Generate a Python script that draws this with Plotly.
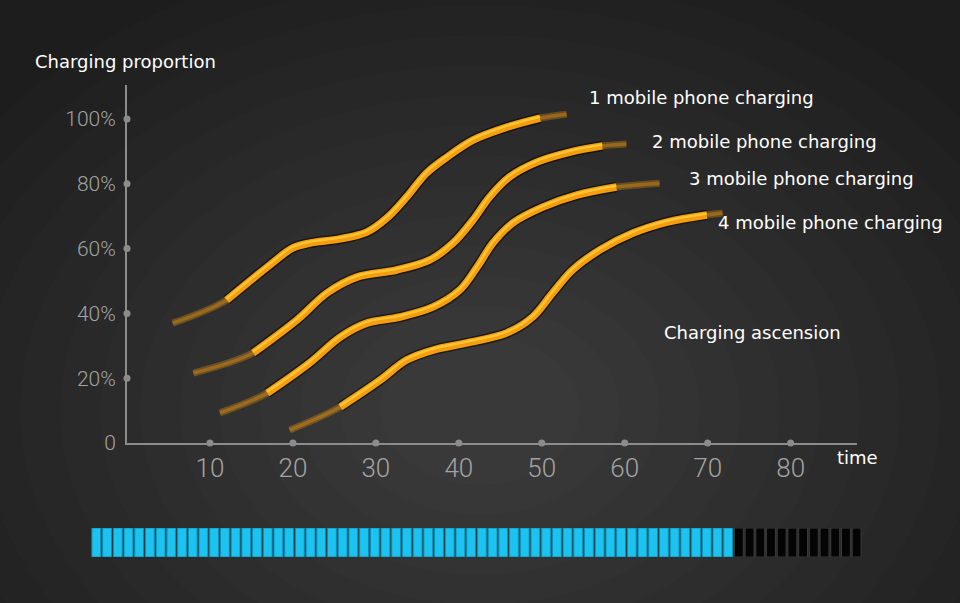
import plotly.graph_objects as go

# charging curves: (time, percent)
x1 = [5.5, 12.0, 16.9, 20.0, 22.0, 25.7, 28.9, 31.3, 33.7, 36.1, 38.6, 41.7, 45.8, 49.8, 53.0]
y1 = [37.0, 44.1, 54.3, 60.2, 61.7, 63.0, 65.1, 69.4, 75.9, 83.3, 88.3, 93.5, 97.5, 100.3, 101.5]
x2 = [8.0, 15.2, 20.5, 24.1, 27.7, 32.5, 36.5, 39.3, 41.7, 43.7, 46.1, 49.4, 53.4, 57.3, 60.2]
y2 = [21.6, 27.8, 38.0, 46.3, 51.2, 53.4, 56.5, 61.7, 68.8, 75.9, 82.1, 86.7, 89.8, 91.7, 92.3]
x3 = [11.2, 16.9, 22.0, 25.7, 28.9, 32.9, 36.9, 40.1, 42.2, 44.1, 46.5, 50.1, 54.2, 59.0, 64.2]
y3 = [9.3, 15.4, 24.7, 32.7, 37.0, 38.9, 42.0, 47.2, 54.3, 61.7, 67.9, 72.8, 76.5, 79.0, 80.2]
x4 = [19.6, 25.7, 30.5, 33.7, 36.9, 41.0, 45.8, 48.9, 51.3, 53.7, 57.0, 61.0, 65.1, 69.9, 71.8]
y4 = [4.0, 11.1, 19.4, 25.6, 28.7, 30.9, 34.0, 38.9, 46.3, 53.4, 59.6, 64.8, 68.2, 70.4, 71.0]
curve_names = ['1 mobile phone charging', '2 mobile phone charging',
               '3 mobile phone charging', '4 mobile phone charging']

x_ticks = [10, 20, 30, 40, 50, 60, 70, 80]
y_ticks = [0, 20, 40, 60, 80, 100]
y_tick_text = ['0', '20%', '40%', '60%', '80%', '100%']

# battery bar
segments_total = 72
segments_filled = 60

ORANGE = '#f59d10'
HIGHLIGHT = '#ffd23c'
TICK_GRAY = '#a3a3a3'
AXIS_GRAY = '#8c8c8c'
TEXT_FONT = dict(family='DejaVu Sans', size=18, color='white')

fig = go.Figure()

# radial glow in the background
bg_shapes = []
n_layers = 14
for i in range(n_layers):
    r = 620 - i * 40
    cx, cy = 480, 410
    rx, ry = r, r * 0.75
    bg_shapes.append(dict(
        type='circle', xref='paper', yref='paper', layer='below',
        x0=(cx - rx - 91) / 771, x1=(cx + rx - 91) / 771,
        y0=(563 - cy - ry) / 478, y1=(563 - cy + ry) / 478,
        fillcolor='rgba(255,255,255,0.012)', line=dict(width=0)))

curves = [(x1, y1), (x2, y2), (x3, y3), (x4, y4)]
for (xs, ys), name in zip(curves, curve_names):
    # whole curve thin and dim, so the ends look like a fading tail
    fig.add_trace(go.Scatter(x=xs, y=ys, mode='lines', opacity=0.3,
                             line=dict(color=ORANGE, width=7, shape='spline'),
                             hoverinfo='skip', showlegend=False))
    fig.add_trace(go.Scatter(x=xs, y=ys, mode='lines', opacity=0.35,
                             line=dict(color=ORANGE, width=3.5, shape='spline'),
                             hoverinfo='skip', showlegend=False))
    body_x, body_y = xs[1:-1], ys[1:-1]
    fig.add_trace(go.Scatter(x=body_x, y=body_y, mode='lines',
                             line=dict(color='rgba(0,0,0,0.5)', width=10.5, shape='spline'),
                             hoverinfo='skip', showlegend=False))
    fig.add_trace(go.Scatter(x=body_x, y=body_y, mode='lines', name=name,
                             line=dict(color=ORANGE, width=7.5, shape='spline'),
                             showlegend=False))
    fig.add_trace(go.Scatter(x=body_x, y=[v + 0.4 for v in body_y], mode='lines',
                             line=dict(color=HIGHLIGHT, width=2.5, shape='spline'),
                             opacity=0.75, hoverinfo='skip', showlegend=False))

# tick dots on the axes
fig.add_trace(go.Scatter(x=x_ticks, y=[0] * len(x_ticks), mode='markers', cliponaxis=False,
                         marker=dict(color=AXIS_GRAY, size=7), hoverinfo='skip', showlegend=False))
fig.add_trace(go.Scatter(x=[0] * (len(y_ticks) - 1), y=y_ticks[1:], mode='markers', cliponaxis=False,
                         marker=dict(color=AXIS_GRAY, size=7), hoverinfo='skip', showlegend=False))

# battery segments
seg_x = list(range(1, segments_total + 1))
seg_colors = ['#1cc3f0' if i <= segments_filled else '#040404' for i in seg_x]
seg_lines = ['#0d8fb4' if i <= segments_filled else '#3a3a3a' for i in seg_x]
fig.add_trace(go.Bar(x=seg_x, y=[1] * segments_total, xaxis='x2', yaxis='y2',
                     marker=dict(color=seg_colors, line=dict(color=seg_lines, width=1)),
                     hoverinfo='skip', showlegend=False))

# text labels
annotations = []
label_pos = [(55.4, 106.5), (63.1, 93.2), (67.5, 81.5), (71.0, 68.2)]
for name, (lx, ly) in zip(curve_names, label_pos):
    annotations.append(dict(x=lx, y=ly, xref='x', yref='y', text=name, showarrow=False,
                            xanchor='left', yanchor='middle', font=TEXT_FONT))
annotations.append(dict(x=64.5, y=34.0, xref='x', yref='y', text='Charging ascension',
                        showarrow=False, xanchor='left', yanchor='middle', font=TEXT_FONT))
annotations.append(dict(x=0.965, y=0.2197, xref='paper', yref='paper', text='time',
                        showarrow=False, xanchor='left', yanchor='middle', font=TEXT_FONT))
annotations.append(dict(x=-0.075, y=1.05, xref='paper', yref='paper', text='Charging proportion',
                        showarrow=False, xanchor='left', yanchor='middle', font=TEXT_FONT))

fig.update_layout(
    width=960, height=603,
    margin=dict(l=91, r=98, t=85, b=40),
    paper_bgcolor='#1d1d1d', plot_bgcolor='rgba(0,0,0,0)',
    shapes=bg_shapes, annotations=annotations,
    bargap=0.17,
    xaxis=dict(domain=[0.0467, 0.9935], range=[0, 88], showgrid=False, zeroline=False,
               showline=True, linecolor=AXIS_GRAY, linewidth=2,
               tickvals=x_ticks, ticks='', ticklabelstandoff=1,
               tickfont=dict(family='Roboto', size=26, color=TICK_GRAY, weight=300)),
    yaxis=dict(domain=[0.251, 1], range=[0, 110.5], showgrid=False, zeroline=False,
               showline=True, linecolor=AXIS_GRAY, linewidth=2,
               tickvals=y_ticks, ticktext=y_tick_text, ticks='', ticklabelstandoff=5,
               tickfont=dict(family='Roboto', size=21, color=TICK_GRAY, weight=300)),
    xaxis2=dict(domain=[0, 1], range=[0.5, segments_total + 0.5], anchor='y2',
                visible=False, fixedrange=True),
    yaxis2=dict(domain=[0.0126, 0.0732], range=[0, 1], anchor='x2',
                visible=False, fixedrange=True),
)

fig.write_html("out.html", config={'displayModeBar': False},
               post_script="document.body.style.margin='0';")
